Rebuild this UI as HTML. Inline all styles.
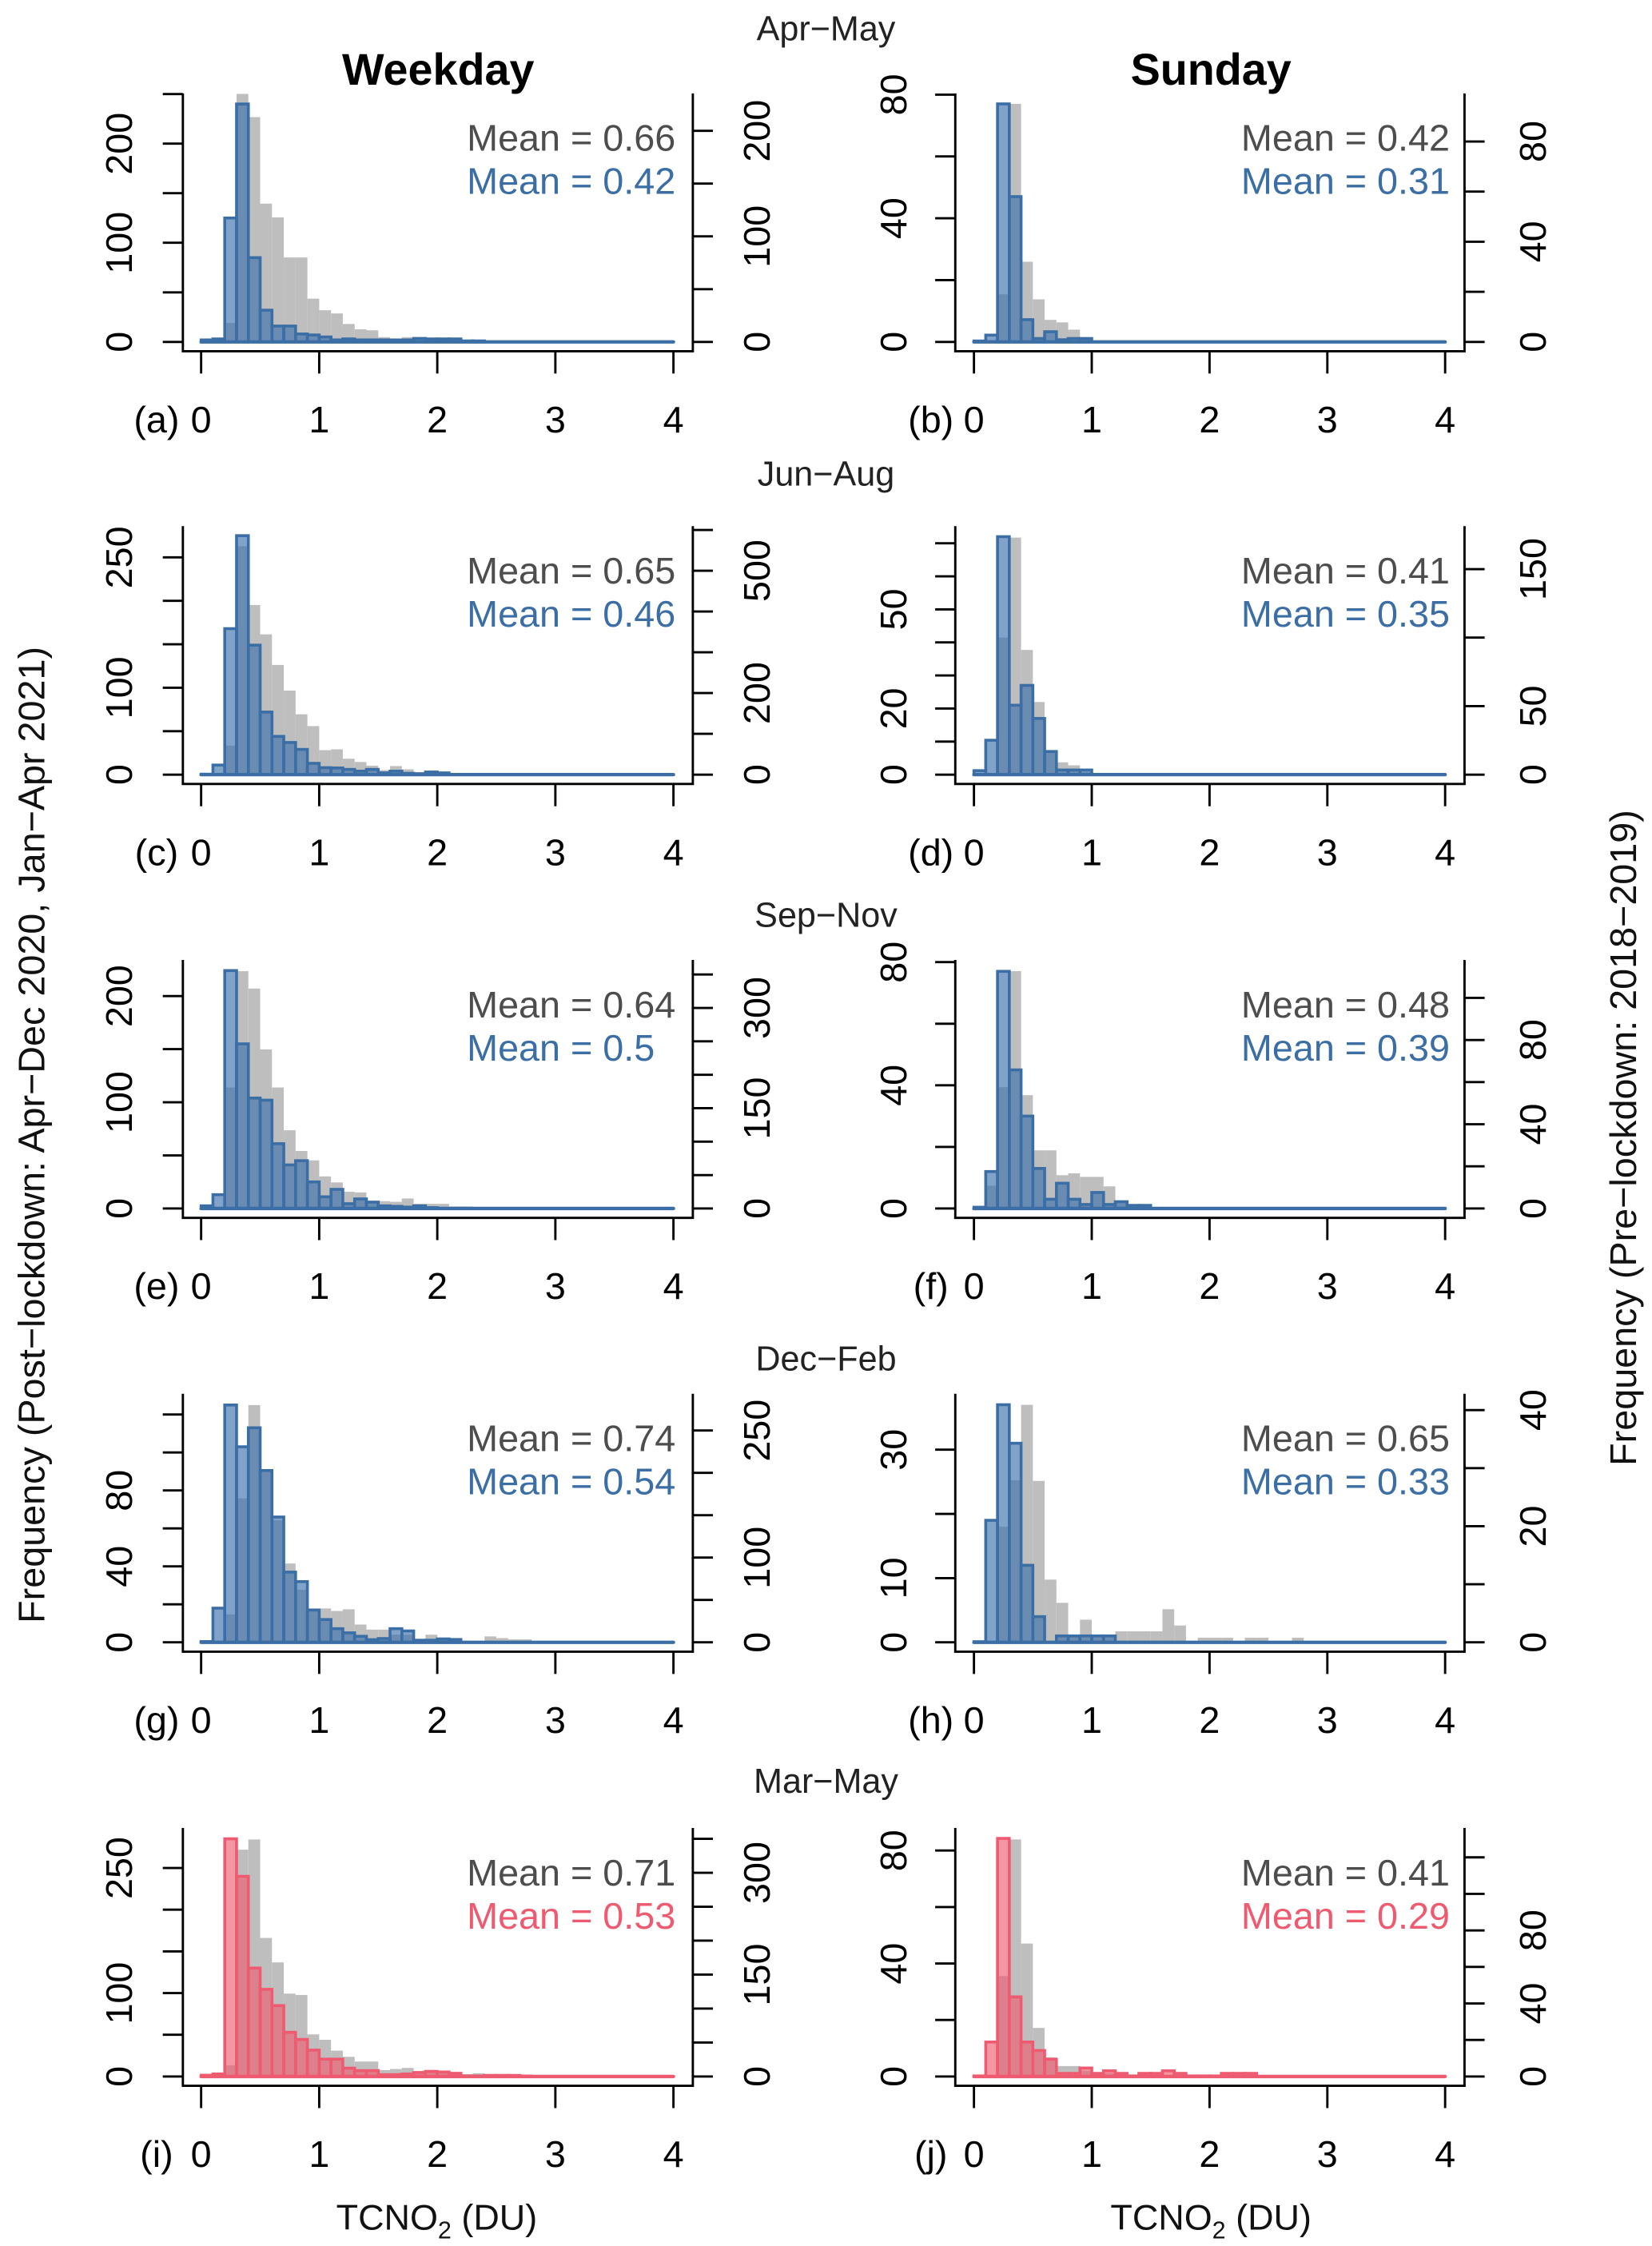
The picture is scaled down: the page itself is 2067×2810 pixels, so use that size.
<!DOCTYPE html>
<html><head><meta charset="utf-8">
<style>
html,body{margin:0;padding:0;background:#fff;}
svg{display:block;font-family:"Liberation Sans",Arial,sans-serif;}
</style></head>
<body>
<svg id="fig" xmlns="http://www.w3.org/2000/svg" width="2067" height="2810" viewBox="0 0 1150 1563.4">
<rect x="0" y="0" width="1150" height="1563.4" fill="#fff"/>
<text x="305" y="59" font-size="31" font-weight="bold" text-anchor="middle" fill="#000">Weekday</text>
<text x="843" y="59" font-size="31" font-weight="bold" text-anchor="middle" fill="#000">Sunday</text>
<text transform="rotate(-90 22 790)" x="22" y="790" font-size="26" text-anchor="middle" dominant-baseline="central" fill="#111">Frequency (Post−lockdown: Apr−Dec 2020, Jan−Apr 2021)</text>
<text transform="rotate(-90 1130 792)" x="1130" y="792" font-size="26" text-anchor="middle" dominant-baseline="central" fill="#111">Frequency (Pre−lockdown: 2018−2019)</text>
<text x="304" y="1552" font-size="25" text-anchor="middle" fill="#111">TCNO<tspan font-size="17" dy="6">2</tspan><tspan dy="-6"> (DU)</tspan></text>
<text x="843" y="1552" font-size="25" text-anchor="middle" fill="#111">TCNO<tspan font-size="17" dy="6">2</tspan><tspan dy="-6"> (DU)</tspan></text>
<g id="plots"></g>
</svg>
<script>
// ---- data: bin counts (bin width 0.1 DU, starting at 0) ----
const seasons = ["Apr−May","Jun−Aug","Sep−Nov","Dec−Feb","Mar−May"];
const xTickLabels = ["0","1","2","3","4"];
const a_post = [2,3,125,240,85,32,16,16,8,7,5,2,3,2,2,2,2,2,3.5,3,3,3,1,1];
const a_pre  = [0,1,18,235,213,131,118,80,80,41,30,27,17,12,11,4.5,2.5,4.5,3,2,1,1];
const b_post = [0.3,2.2,77,47,7.2,1.1,3.3,0.7,1.1,1.1];
const b_pre  = [0,0,19,95,32,17,8.8,7.8,4.9,1.9];
const c_post = [0.5,11,168,275,149,72,44,37,29,13,8,7.7,6,4,6,2,4,1.5,1,3,2];
const c_pre  = [0,0,71,560,416,344,269,206,148,119,60,62,39,31,22,11,21,13,6,6,5];
const d_post = [1.2,10.4,72,21,27,17,7,1.4,1.4,1.4];
const d_pre  = [0,0,100,173,91,53,17,9,6.8,2];
const e_post = [2.5,13,224,155,104,102,61,41,45,25,11,18,4.5,9,6,2.5,2,1.3,2.5,0.8];
const e_pre  = [0,0,181,355,329,238,181,117,86,72,48,39,25,24,8,11,10,15,7,7,7,3,3,2];
const f_post = [0.4,12,77,45,30,13,3,8.2,3,1.3,5.2,1.3,2.2,1,1];
const f_pre  = [0,10.8,57.6,112.7,53.8,27.6,27.6,15.8,16.7,15,15,10.5,2.5,1.9,1.5,0.6];
const g_post = [0.4,18,125,103,113,90.5,66,37,32,17,12,7.2,5,3.2,1.4,2,7.2,6,1.1,1.1,1.8,1.5];
const g_pre  = [0,0,33,170,280,204,144,93,62,40,40,37,39,21,15,15,9,9,3.5,9,4.7,3.5,1.6,1.6,7,5,3.5,3.5];
const h_post = [0.1,19,37,31,12,4,0,1,1,1,1,1];
const h_pre  = [0,0,19.9,27.9,40.9,27.8,10.8,6.8,1,3.9,1,1,1.9,1.9,1.9,1.9,5.7,2.9,0,0.8,0.8,0.8,0,0.8,0.8,0,0,0.8];
const i_post = [1.5,3,285,240,130,104.5,85,53,44.4,31.6,20.8,20.8,10,7,7,2.2,2.2,3,4.8,6,5.4,3.8,0.6,0.6,1.3,1.3,1.3,0.5];
const i_pre  = [0,0,16.5,334,349,204,168,122,120,62,54,38,29,22,22,9.4,11,12.6,4.7,9.8,7.5,5.9,3.5,4.7,2,2,2,2,2,2];
const j_post = [0.2,12.2,84.3,28.2,12.2,9.2,6.1,1.1,1.1,3,1.1,2,1.1,0.2,1.1,1.1,2,1.1,0.2,0.2,0.2,1.1,1.1,1.1];
const j_pre  = [0,0,55,129.8,72.8,26.6,10.5,5.7,5.7,3.2,1.8,1.8,1,1,1,1];
const meansPre  = ["0.66","0.42","0.65","0.41","0.64","0.48","0.74","0.65","0.71","0.41"];
const meansPost = ["0.42","0.31","0.46","0.35","0.5","0.39","0.54","0.33","0.53","0.29"];
const leftTickVals = [[0,50,100,150,200,250],[0,20,40,60,80],[0,50,100,150,200,250],[0,10,20,30,40,50,60,70],[0,50,100,150,200],[0,20,40,60,80],[0,20,40,60,80,100,120],[0,10,20,30],[0,50,100,150,200,250],[0,20,40,60,80]];
const leftTickLabels = [["0","100","200"],["0","40","80"],["0","100","250"],["0","20","50"],["0","100","200"],["0","40","80"],["0","40","80"],["0","10","30"],["0","100","250"],["0","40","80"]];
const rightTickVals = [[0,50,100,150,200],[0,20,40,60,80],[0,100,200,300,400,500,600],[0,50,100,150],[0,50,100,150,200,250,300,350],[0,20,40,60,80,100],[0,50,100,150,200,250],[0,10,20,30,40],[0,50,100,150,200,250,300,350],[0,20,40,60,80,100,120]];
const rightTickLabels = [["0","100","200"],["0","40","80"],["0","200","500"],["0","50","150"],["0","150","300"],["0","40","80"],["0","100","250"],["0","20","40"],["0","150","300"],["0","40","80"]];
const leftMax  = [250.7,80.4,286,75.2,234,80.7,130.9,38.7,298,88];
const rightMax = [235.5,99.2,609.5,181.4,371.8,118,293.3,42.8,366,136.1];
const postSeries = [a_post,b_post,c_post,d_post,e_post,f_post,g_post,h_post,i_post,j_post];
const preSeries  = [a_pre,b_pre,c_pre,d_pre,e_pre,f_pre,g_pre,h_pre,i_pre,j_pre];
const panelLetters = ["a","b","c","d","e","f","g","h","i","j"];

// ---- layout ----
const NS = "http://www.w3.org/2000/svg";
const rowZero = [238, 539.2, 841.2, 1143.2, 1445.4];
const seasonY = [20, 330, 637, 946, 1240];
const colX0 = [140, 678], colX4 = [468.8, 1006];
const colAxL = [127.3, 665], colAxR = [482.3, 1019.5];
const colLeftLab = [83, 622], colRightLab = [527, 1067], colLetter = [109, 648];
const colMeanX = [325, 864];
const H = 173;
const root = document.getElementById("plots");
function el(tag, parent) { const e = document.createElementNS(NS, tag); parent.appendChild(e); return e; }
function setA(e, o) { for (const k in o) e.setAttribute(k, o[k]); }

seasons.forEach(function (s, r) {
  const t = el("text", root);
  setA(t, {x: 575, y: seasonY[r] + 8, "font-size": 24, "text-anchor": "middle", fill: "#222"});
  
  
  t.textContent = s;
});

for (let p = 0; p < 10; p++) {
  const col = p % 2, row = Math.floor(p / 2);
  const Z = rowZero[row];
  const isPink = row === 4;
  const stroke = isPink ? "#ee5b70" : "#3a6ea5";
  const fill = isPink ? "#ef5d72" : "#3d72ad";
  const xs = function (v) { return colX0[col] + (colX4[col] - colX0[col]) * v / 4; };
  const yl = function (v) { return Z - H * v / leftMax[p]; };
  const yr = function (v) { return Z - H * v / rightMax[p]; };
  const g = el("g", root);
  
  

  const pre = preSeries[p];
  for (let i = 0; i < pre.length; i++) {
    if (pre[i] <= 0) continue;
    const rc = el("rect", g);
    setA(rc, {x: xs(i * 0.1), y: yr(pre[i]), width: xs(0.1) - xs(0), height: Z - yr(pre[i]), fill: "#bebebe"});
    
    
  }
  const post = postSeries[p];
  for (let i = 0; i < post.length; i++) {
    const v = post[i];
    if (v <= 0) continue;
    const rc = el("rect", g);
    setA(rc, {x: xs(i * 0.1), y: yl(v), width: xs(0.1) - xs(0), height: Z - yl(v), fill: fill, "fill-opacity": 0.65, stroke: stroke, "stroke-width": 2});
    
    
  }
  const bl = el("line", g);
  setA(bl, {x1: xs(0), x2: xs(4), y1: Z, y2: Z, stroke: stroke, "stroke-width": 2.4, "stroke-linecap": "round"});
  
  
  const fr = el("path", g);
  setA(fr, {d: "M" + colAxL[col] + "," + (Z - H) + " V" + (Z + 6.5) + " H" + colAxR[col] + " V" + (Z - H), fill: "none", stroke: "#000", "stroke-width": 1.6});
  
  
  xTickLabels.forEach(function (lab, k) {
    const tk = el("line", g);
    setA(tk, {x1: xs(k), x2: xs(k), y1: Z + 6.5, y2: Z + 22, stroke: "#000", "stroke-width": 1.6});
    
    
    const tx = el("text", g);
    setA(tx, {x: xs(k), y: Z + 63, "font-size": 26, "text-anchor": "middle", fill: "#000"});
    
    
    tx.textContent = lab;
  });
  leftTickVals[p].forEach(function (v) {
    const tk = el("line", g);
    setA(tk, {x1: colAxL[col] - 14, x2: colAxL[col], y1: yl(v), y2: yl(v), stroke: "#000", "stroke-width": 1.6});
    
    
  });
  leftTickLabels[p].forEach(function (lab) {
    const y = yl(parseFloat(lab));
    const tx = el("text", g);
    setA(tx, {x: colLeftLab[col], y: y, "font-size": 26, "text-anchor": "middle", "dominant-baseline": "central", transform: "rotate(-90 " + colLeftLab[col] + " " + y + ")", fill: "#000"});
    
    
    tx.textContent = lab;
  });
  rightTickVals[p].forEach(function (v) {
    const tk = el("line", g);
    setA(tk, {x1: colAxR[col], x2: colAxR[col] + 14, y1: yr(v), y2: yr(v), stroke: "#000", "stroke-width": 1.6});
    
    
  });
  rightTickLabels[p].forEach(function (lab) {
    const y = yr(parseFloat(lab));
    const tx = el("text", g);
    setA(tx, {x: colRightLab[col], y: y, "font-size": 26, "text-anchor": "middle", "dominant-baseline": "central", transform: "rotate(-90 " + colRightLab[col] + " " + y + ")", fill: "#000"});
    
    
    tx.textContent = lab;
  });
  const lt = el("text", g);
  setA(lt, {x: colLetter[col], y: Z + 63, "font-size": 26, "text-anchor": "middle", fill: "#000"});
  
  
  lt.textContent = "(" + panelLetters[p] + ")";
  const m1 = el("text", g);
  setA(m1, {x: colMeanX[col], y: Z - 133, "font-size": 26, "text-anchor": "start", fill: "#4d4d4d"});
  
  
  m1.textContent = "Mean = " + meansPre[p];
  const m2 = el("text", g);
  setA(m2, {x: colMeanX[col], y: Z - 103, "font-size": 26, "text-anchor": "start", fill: stroke});
  
  
  m2.textContent = "Mean = " + meansPost[p];
}
</script>
</body></html>
